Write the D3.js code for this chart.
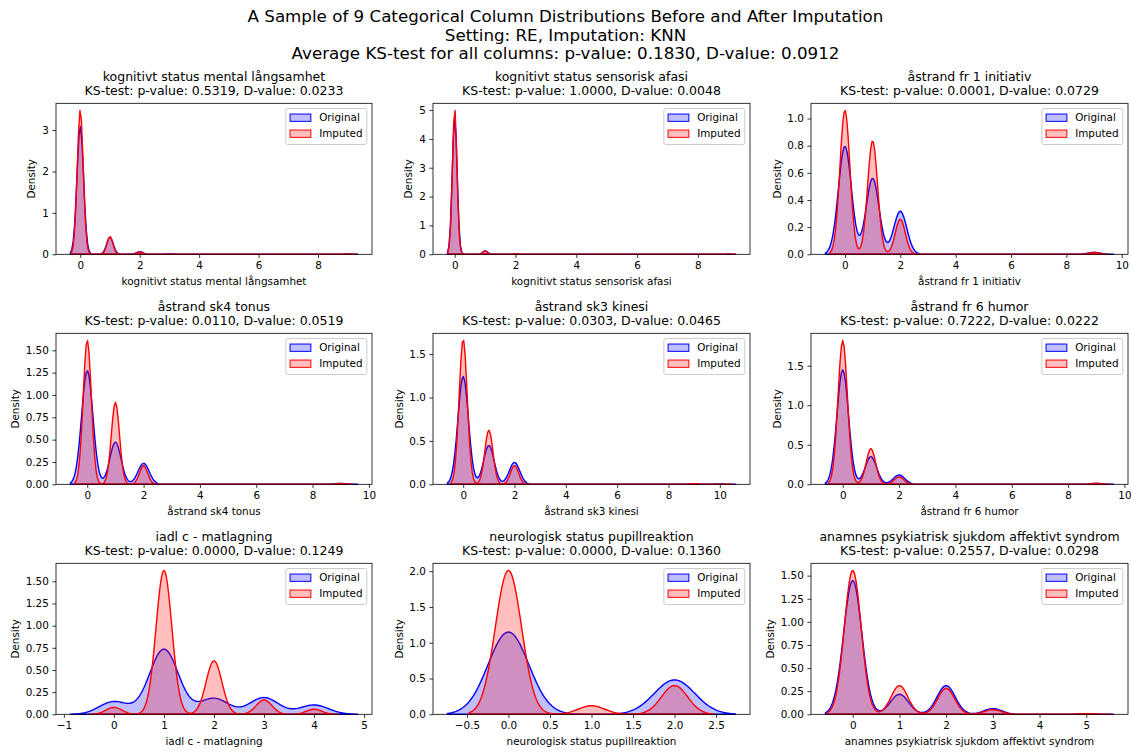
<!DOCTYPE html>
<html>
<head>
<meta charset="utf-8">
<script src="https://cdn.jsdelivr.net/npm/d3@7"></script>
<style>
  body { margin: 0; background: #fff; }
  text { font-family: "DejaVu Sans", sans-serif; fill: #000; }
</style>
</head>
<body>
<div id="chart"></div>
<script>
// titles
var suptitleLines = [
  "A Sample of 9 Categorical Column Distributions Before and After Imputation",
  "Setting: RE, Imputation: KNN",
  "Average KS-test for all columns: p-value: 0.1830, D-value: 0.0912"
];
var columns = [
  "kognitivt status mental långsamhet",
  "kognitivt status sensorisk afasi",
  "åstrand fr 1 initiativ",
  "åstrand sk4 tonus",
  "åstrand sk3 kinesi",
  "åstrand fr 6 humor",
  "iadl c - matlagning",
  "neurologisk status pupillreaktion",
  "anamnes psykiatrisk sjukdom affektivt syndrom"
];
var pValues = [0.5319, 1.0000, 0.0001, 0.0110, 0.0303, 0.7222, 0.0000, 0.0000, 0.2557];
var dValues = [0.0233, 0.0048, 0.0729, 0.0519, 0.0465, 0.0222, 0.1249, 0.1360, 0.0298];

// category values and their share in each column (read from the peaks)
var categories = [
  [0, 1, 2, 3, 9],
  [0, 1, 2, 9],
  [0, 1, 2, 9],
  [0, 1, 2, 9],
  [0, 1, 2, 9, 10],
  [0, 1, 2, 9],
  [0, 1, 2, 3, 4],
  [0, 1, 2],
  [0, 1, 2, 3, 5]
];
var originalWeights = [
  [0.86, 0.115, 0.0175, 0.003, 0.003],
  [0.96, 0.024, 0.005, 0.003],
  [0.469, 0.33, 0.187, 0.008],
  [0.639, 0.237, 0.118, 0.005],
  [0.639, 0.23, 0.13, 0.003, 0.002],
  [0.745, 0.18, 0.061, 0.006],
  [0.104, 0.534, 0.131, 0.137, 0.076],
  [0.706, 0, 0.295],
  [0.708, 0.106, 0.1515, 0.03, 0.003]
];
var imputedWeights = [
  [0.875, 0.107, 0.014, 0.001, 0.002],
  [0.95, 0.022, 0.004, 0.002],
  [0.48, 0.378, 0.117, 0.006],
  [0.587, 0.334, 0.076, 0.003],
  [0.662, 0.2475, 0.086, 0.003, 0.001],
  [0.766, 0.19, 0.04, 0.005],
  [0.031, 0.643, 0.239, 0.064, 0.0225],
  [0.796, 0.0475, 0.159],
  [0.703, 0.14, 0.127, 0.0226, 0.003]
];
// kde bandwidths
var originalBw = [0.111, 0.08, 0.235, 0.2, 0.205, 0.205, 0.29, 0.245, 0.195];
var imputedBw = [0.1, 0.075, 0.18, 0.145, 0.158, 0.168, 0.158, 0.158, 0.18];

// ticks
var xTickValues = [
  [0, 2, 4, 6, 8],
  [0, 2, 4, 6, 8],
  [0, 2, 4, 6, 8, 10],
  [0, 2, 4, 6, 8, 10],
  [0, 2, 4, 6, 8, 10],
  [0, 2, 4, 6, 8, 10],
  [-1, 0, 1, 2, 3, 4, 5],
  [-0.5, 0, 0.5, 1, 1.5, 2, 2.5],
  [0, 1, 2, 3, 4, 5]
];
var xTickFormat = ["d", "d", "d", "d", "d", "d", "d", ".1f", "d"];
var yTickValues = [
  [0, 1, 2, 3],
  [0, 1, 2, 3, 4, 5],
  [0, 0.2, 0.4, 0.6, 0.8, 1.0],
  [0, 0.25, 0.5, 0.75, 1.0, 1.25, 1.5],
  [0, 0.5, 1.0, 1.5],
  [0, 0.5, 1.0, 1.5],
  [0, 0.25, 0.5, 0.75, 1.0, 1.25, 1.5],
  [0, 0.5, 1.0, 1.5, 2.0],
  [0, 0.25, 0.5, 0.75, 1.0, 1.25, 1.5]
];
var yTickFormat = ["d", "d", ".1f", ".2f", ".1f", ".1f", ".2f", ".1f", ".2f"];

var seriesNames = ["Original", "Imputed"];
var seriesColors = ["#0000ff", "#ff0000"];

// layout of the 3x3 grid
var width = 1131, height = 752;
var colLeft = [56, 433, 811], colRight = [372, 750, 1128];
var rowTop = [103.3, 333.3, 563.3], rowBottom = [254.3, 484.3, 714.3];
var tickFont = 10.4, titleFont = 12.5;

var svg = d3.select("#chart")
  .append("svg")
  .attr("width", width)
  .attr("height", height);

// suptitle
svg.append("g")
  .selectAll("text")
  .data(suptitleLines)
  .enter()
  .append("text")
  .attr("x", width / 2)
  .attr("y", function (d, i) { return 22.2 + i * 18.4; })
  .attr("text-anchor", "middle")
  .style("font-size", "16.7px")
  .text(function (d) { return d; });

// gaussian kde on a 200 point grid, cut at 3 bandwidths
function kde(cats, weights, bw) {
  var used = cats.filter(function (c, k) { return weights[k] > 0; });
  var lo = d3.min(used) - 3 * bw, hi = d3.max(used) + 3 * bw;
  var norm = 1 / (bw * Math.sqrt(2 * Math.PI));
  return d3.range(200).map(function (i) {
    var x = lo + (hi - lo) * i / 199;
    var y = d3.sum(cats, function (c, k) {
      var z = (x - c) / bw;
      return weights[k] * norm * Math.exp(-0.5 * z * z);
    });
    return [x, y];
  });
}

function drawPanel(i) {
  var r = Math.floor(i / 3), c = i % 3;
  var left = colLeft[c], right = colRight[c], top = rowTop[r], bottom = rowBottom[r];
  var w = right - left, h = bottom - top;

  var curves = [
    kde(categories[i], originalWeights[i], originalBw[i]),
    kde(categories[i], imputedWeights[i], imputedBw[i])
  ];
  var all = curves[0].concat(curves[1]);
  var xmin = d3.min(all, function (d) { return d[0]; });
  var xmax = d3.max(all, function (d) { return d[0]; });
  var ymax = d3.max(all, function (d) { return d[1]; });
  var pad = (xmax - xmin) * 0.05;

  var x = d3.scaleLinear().domain([xmin - pad, xmax + pad]).range([0, w]);
  var y = d3.scaleLinear().domain([0, ymax * 1.05]).range([h, 0]);

  var g = svg.append("g")
    .attr("transform", "translate(" + left + "," + top + ")");

  // density fills
  var area = d3.area()
    .x(function (d) { return x(d[0]); })
    .y0(y(0))
    .y1(function (d) { return y(d[1]); });

  curves.forEach(function (curve, s) {
    g.append("path")
      .datum(curve)
      .attr("d", area)
      .style("fill", seriesColors[s])
      .style("fill-opacity", 0.25)
      .style("stroke", seriesColors[s])
      .style("stroke-width", 1.4)
      .style("stroke-linejoin", "round");
  });

  // axes
  var xAxis = g.append("g")
    .attr("transform", "translate(0," + h + ")")
    .call(d3.axisBottom(x)
      .tickValues(xTickValues[i])
      .tickFormat(d3.format(xTickFormat[i]))
      .tickSize(3.6)
      .tickPadding(3.6));
  var yAxis = g.append("g")
    .call(d3.axisLeft(y)
      .tickValues(yTickValues[i])
      .tickFormat(d3.format(yTickFormat[i]))
      .tickSize(3.6)
      .tickPadding(3.6));
  [xAxis, yAxis].forEach(function (a) {
    a.select(".domain").remove();
    a.selectAll("line").style("stroke", "#000").style("stroke-width", 0.8);
    a.selectAll("text")
      .style("font-size", tickFont + "px")
      .style("font-family", "DejaVu Sans")
      .style("fill", "#000");
  });

  // spines
  g.append("rect")
    .attr("width", w)
    .attr("height", h)
    .style("fill", "none")
    .style("stroke", "#000")
    .style("stroke-width", 0.8);

  // axis labels
  g.append("text")
    .attr("x", w / 2)
    .attr("y", h + 30.5)
    .attr("text-anchor", "middle")
    .style("font-size", tickFont + "px")
    .text(columns[i]);

  var maxTick = 0;
  yAxis.selectAll("text").each(function () {
    maxTick = Math.max(maxTick, this.getComputedTextLength());
  });
  var ylx = -(7.2 + maxTick + 4.2 + 2.5);
  g.append("text")
    .attr("transform", "translate(" + ylx + "," + (h / 2) + ") rotate(-90)")
    .attr("text-anchor", "middle")
    .style("font-size", tickFont + "px")
    .text("Density");

  // panel title
  var titleLines = [columns[i],
    "KS-test: p-value: " + d3.format(".4f")(pValues[i]) + ", D-value: " + d3.format(".4f")(dValues[i])];
  g.append("g")
    .selectAll("text")
    .data(titleLines)
    .enter()
    .append("text")
    .attr("x", w / 2)
    .attr("y", function (d, k) { return -22.6 + k * 14.4; })
    .attr("text-anchor", "middle")
    .style("font-size", titleFont + "px")
    .text(function (d) { return d; });

  // legend
  var leg = g.append("g");
  var frame = leg.append("rect")
    .attr("rx", 2)
    .attr("ry", 2)
    .style("fill", "#fff")
    .style("fill-opacity", 0.8)
    .style("stroke", "#cccccc")
    .style("stroke-width", 1);
  var textW = 0;
  seriesNames.forEach(function (name, s) {
    var cy = 9.2 + s * 16;
    leg.append("rect")
      .attr("x", 4.2)
      .attr("y", cy - 3.65)
      .attr("width", 20.8)
      .attr("height", 7.3)
      .style("fill", seriesColors[s])
      .style("fill-opacity", 0.25)
      .style("stroke", seriesColors[s])
      .style("stroke-width", 1);
    var t = leg.append("text")
      .attr("x", 33.3)
      .attr("y", cy)
      .attr("dy", "0.35em")
      .style("font-size", tickFont + "px")
      .text(name);
    textW = Math.max(textW, t.node().getComputedTextLength());
  });
  var legW = 33.3 + textW + 4.2;
  frame.attr("width", legW).attr("height", 36);
  leg.attr("transform", "translate(" + (w - 5.2 - legW) + ",5.2)");
}

d3.range(9).forEach(drawPanel);
</script>
</body>
</html>
